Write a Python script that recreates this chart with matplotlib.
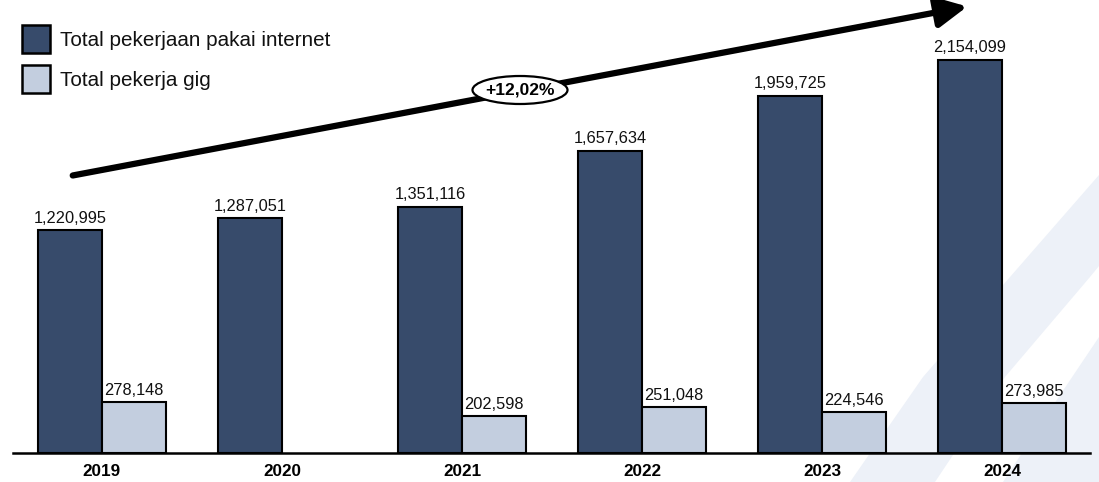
import matplotlib.pyplot as plt
import numpy as np
from matplotlib.patches import Polygon, Rectangle, Ellipse, FancyArrowPatch

plt.rcParams['font.family'] = ['Liberation Sans', 'DejaVu Sans']

years = ['2019', '2020', '2021', '2022', '2023', '2024']
internet_jobs = [1220995, 1287051, 1351116, 1657634, 1959725, 2154099]
gig_workers = [278148, None, 202598, 251048, 224546, 273985]
growth_label = '+12,02%'
legend_labels = ['Total pekerjaan pakai internet', 'Total pekerja gig']

dark = '#374b6b'
light = '#c3cedf'
band = '#edf1f8'

W, H = 1099, 482
fig = plt.figure(figsize=(W / 100, H / 100), dpi=100)


def px(x, y):
    # pixel position (from top-left) -> figure fraction
    return (x / W, 1 - y / H)


# faint curved bands behind the chart
band_shapes = [
    [(850, 482), (923, 377), (1010, 277), (1099, 175), (1099, 266),
     (1090, 277), (1005, 377), (935, 482)],
    [(1003, 482), (1050, 410), (1099, 337), (1099, 482)],
]
for shape in band_shapes:
    fig.patches.append(Polygon([px(*p) for p in shape], closed=True,
                               transform=fig.transFigure, facecolor=band,
                               edgecolor='none', zorder=-5))

ax = fig.add_axes([13 / W, 29 / H, 1077 / W, 453 / H])
ax.patch.set_alpha(0)

x = np.arange(len(years))
w = 0.356
ax.bar(x - w / 2, internet_jobs, width=w, color=dark, edgecolor='black',
       linewidth=1.5, zorder=3)
for xi, v in zip(x, internet_jobs):
    ax.text(xi - w / 2, v + 26000, f'{v:,}', ha='center', va='bottom',
            fontsize=11.8, color='#111111')

gx = [xi for xi, v in zip(x, gig_workers) if v is not None]
gv = [v for v in gig_workers if v is not None]
ax.bar(np.array(gx) + w / 2, gv, width=w, color=light, edgecolor='black',
       linewidth=1.5, zorder=3)
for xi, v in zip(gx, gv):
    ax.text(xi + w / 2, v + 22000, f'{v:,}', ha='center', va='bottom',
            fontsize=11.8, color='#111111')

ax.set_xlim(-0.494, 5.489)
ax.set_ylim(0, 2.4836e6)
ax.set_xticks(x)
ax.set_xticklabels(years, fontweight='bold', fontsize=12.3)
ax.tick_params(axis='x', length=0, pad=8)
ax.set_yticks([])
for s in ['top', 'right', 'left']:
    ax.spines[s].set_visible(False)
ax.spines['bottom'].set_linewidth(1.8)
ax.spines['bottom'].set_zorder(4)

# growth arrow with the rate in an oval
fig.patches.append(FancyArrowPatch(
    px(70, 176), px(970, 6), transform=fig.transFigure,
    arrowstyle='-|>,head_length=1.3,head_width=0.65',
    mutation_scale=14, linewidth=4.5, color='black', zorder=5))
fig.patches.append(Ellipse(px(520, 90), 95 / W, 28 / H, transform=fig.transFigure,
                           facecolor='white', edgecolor='black', linewidth=1.6,
                           zorder=6))
fig.text(*px(520, 90), growth_label, ha='center', va='center',
         fontsize=12.5, fontweight='bold', zorder=7)

# legend
for i, (lab, col) in enumerate(zip(legend_labels, [dark, light])):
    top = 25 + i * 40
    fig.patches.append(Rectangle(px(22, top + 28), 28 / W, 28 / H,
                                 transform=fig.transFigure, facecolor=col,
                                 edgecolor='black', linewidth=1.8, zorder=5))
    fig.text(*px(60, top + 15), lab, ha='left', va='center',
             fontsize=14.9, color='#111111')

fig.savefig('out.png', dpi=100)
